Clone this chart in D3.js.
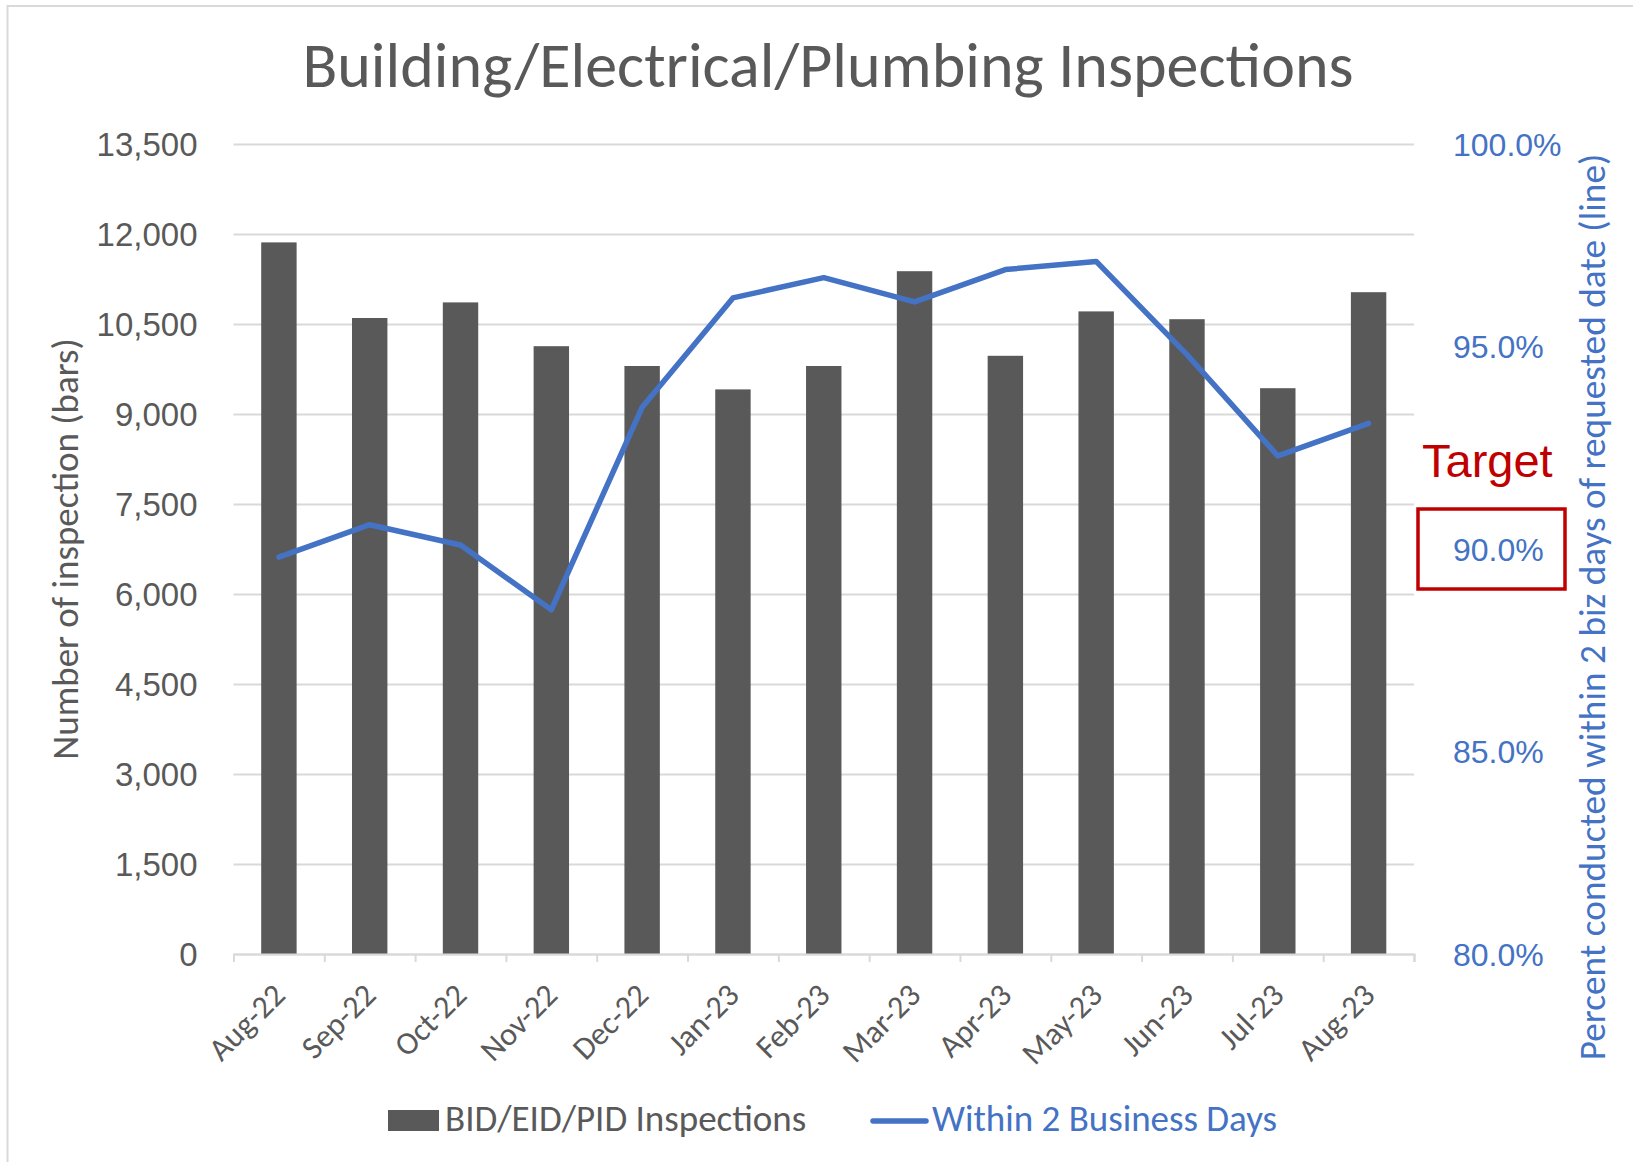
<!DOCTYPE html>
<html>
<head>
<meta charset="utf-8">
<script src="https://cdn.jsdelivr.net/npm/d3@7"></script>
<style>
  body { margin: 0; background: #fff; }
  .cal { font-family: Carlito, Calibri, Lato, sans-serif; }
  .num { font-family: "Liberation Sans", Arial, sans-serif; }
</style>
</head>
<body>
<div id="chart"></div>
<script>
// values
var months = ["Aug-22", "Sep-22", "Oct-22", "Nov-22", "Dec-22", "Jan-23", "Feb-23",
              "Mar-23", "Apr-23", "May-23", "Jun-23", "Jul-23", "Aug-23"];
var inspections = [11860, 10600, 10860, 10130, 9800, 9410, 9800, 11380, 9970, 10710, 10580, 9430, 11030];
var within2Days = [0.898, 0.906, 0.901, 0.885, 0.935, 0.962, 0.967, 0.961, 0.969, 0.971, 0.948, 0.923, 0.931];
var countTicks = [0, 1500, 3000, 4500, 6000, 7500, 9000, 10500, 12000, 13500];
var pctTicks = [0.80, 0.85, 0.90, 0.95, 1.00];
var targetPct = 0.90;

var w = 1633;
var h = 1162;
// plot area
var pLeft = 233.5, pRight = 1414, pTop = 144, pBottom = 954;

var grey = "#595959";
var blue = "#4472C4";
var red = "#C00000";
var light = "#D9D9D9";

var svg = d3.select("#chart")
    .append("svg")
    .attr("width", w)
    .attr("height", h);

svg.append("rect")
    .attr("width", w)
    .attr("height", h)
    .attr("fill", "#fff");

// chart frame (only left and top edges are in the crop)
svg.append("path")
    .attr("d", "M7.5," + h + "V6H" + w)
    .attr("fill", "none")
    .attr("stroke", light)
    .attr("stroke-width", 2);

var x = d3.scaleBand()
    .domain(months)
    .range([pLeft, pRight])
    .padding(0);

var y = d3.scaleLinear()
    .domain([0, 13500])
    .range([pBottom, pTop]);

var y2 = d3.scaleLinear()
    .domain([0.8, 1.0])
    .range([pBottom, pTop]);

// title
svg.append("text")
    .attr("class", "cal")
    .attr("x", 828)
    .attr("y", 87)
    .attr("text-anchor", "middle")
    .attr("font-size", 64)
    .attr("fill", grey)
    .text("Building/Electrical/Plumbing Inspections");

// left axis with gridlines
var yAxis = svg.append("g")
    .attr("class", "num")
    .attr("transform", "translate(" + pLeft + ",0)")
    .call(d3.axisLeft(y)
        .tickValues(countTicks)
        .tickSize(-(pRight - pLeft))
        .tickPadding(36)
        .tickFormat(d3.format(",")));
yAxis.select(".domain").remove();
yAxis.selectAll(".tick line")
    .attr("stroke", light)
    .attr("stroke-width", 1.8);
yAxis.selectAll(".tick text")
    .attr("font-size", 33)
    .attr("fill", grey)
    .attr("dy", "0.35em");

// right axis
var y2Axis = svg.append("g")
    .attr("class", "num")
    .attr("transform", "translate(" + pRight + ",0)")
    .call(d3.axisRight(y2)
        .tickValues(pctTicks)
        .tickSize(0)
        .tickPadding(39)
        .tickFormat(d3.format(".1%")));
y2Axis.select(".domain").remove();
y2Axis.selectAll(".tick text")
    .attr("font-size", 32)
    .attr("fill", blue)
    .attr("dy", "0.35em");

// bars
var barW = x.bandwidth() * 0.39;
svg.selectAll(".bar")
    .data(inspections)
    .enter()
    .append("rect")
    .attr("class", "bar")
    .attr("x", function(d, i) { return x(months[i]) + (x.bandwidth() - barW) / 2; })
    .attr("y", function(d) { return y(d); })
    .attr("width", barW)
    .attr("height", function(d) { return pBottom - y(d); })
    .attr("fill", grey);

// category axis: ticks sit between categories
var edges = d3.scaleLinear().domain([0, months.length]).range([pLeft, pRight]);
var tickAxis = svg.append("g")
    .attr("transform", "translate(0," + pBottom + ")")
    .call(d3.axisBottom(edges)
        .tickValues(d3.range(months.length + 1))
        .tickSize(8)
        .tickFormat(""));
tickAxis.select(".domain").attr("stroke", light).attr("stroke-width", 2);
tickAxis.selectAll(".tick line").attr("stroke", light).attr("stroke-width", 2);

var xAxis = svg.append("g")
    .attr("class", "cal")
    .attr("transform", "translate(0," + pBottom + ")")
    .call(d3.axisBottom(x).tickSize(0));
xAxis.select(".domain").remove();
xAxis.selectAll(".tick text")
    .attr("x", 0)
    .attr("y", 0)
    .attr("dy", 0)
    .attr("transform", "translate(8,43) rotate(-45)")
    .attr("text-anchor", "end")
    .attr("font-size", 32)
    .attr("fill", grey);

// line
var line = d3.line()
    .x(function(d, i) { return x(months[i]) + x.bandwidth() / 2; })
    .y(function(d) { return y2(d); });

svg.append("path")
    .datum(within2Days)
    .attr("d", line)
    .attr("fill", "none")
    .attr("stroke", blue)
    .attr("stroke-width", 5.5)
    .attr("stroke-linejoin", "round")
    .attr("stroke-linecap", "round");

// axis titles
svg.append("text")
    .attr("class", "cal")
    .attr("transform", "translate(78," + (pTop + pBottom) / 2 + ") rotate(-90)")
    .attr("text-anchor", "middle")
    .attr("font-size", 37)
    .attr("fill", grey)
    .text("Number of inspection (bars)");

svg.append("text")
    .attr("class", "cal")
    .attr("transform", "translate(1605,607) rotate(-90)")
    .attr("text-anchor", "middle")
    .attr("font-size", 37.3)
    .attr("fill", blue)
    .text("Percent conducted within 2 biz days of requested date (line)");

// target callout
var ty = y2(targetPct);
svg.append("rect")
    .attr("x", 1418)
    .attr("y", ty - 40)
    .attr("width", 147)
    .attr("height", 80)
    .attr("fill", "none")
    .attr("stroke", red)
    .attr("stroke-width", 3.5);

svg.append("text")
    .attr("class", "num")
    .attr("x", 1422)
    .attr("y", ty - 72)
    .attr("font-size", 47)
    .attr("fill", red)
    .text("Target");

// legend
var legend = svg.append("g").attr("class", "cal");
legend.append("rect")
    .attr("x", 388)
    .attr("y", 1110)
    .attr("width", 51)
    .attr("height", 21)
    .attr("fill", grey);
legend.append("text")
    .attr("x", 445)
    .attr("y", 1131)
    .attr("font-size", 37)
    .attr("fill", grey)
    .text("BID/EID/PID Inspections");
legend.append("line")
    .attr("x1", 873)
    .attr("x2", 926)
    .attr("y1", 1121)
    .attr("y2", 1121)
    .attr("stroke", blue)
    .attr("stroke-width", 5.5)
    .attr("stroke-linecap", "round");
legend.append("text")
    .attr("x", 932)
    .attr("y", 1131)
    .attr("font-size", 37)
    .attr("fill", blue)
    .text("Within 2 Business Days");
</script>
</body>
</html>
